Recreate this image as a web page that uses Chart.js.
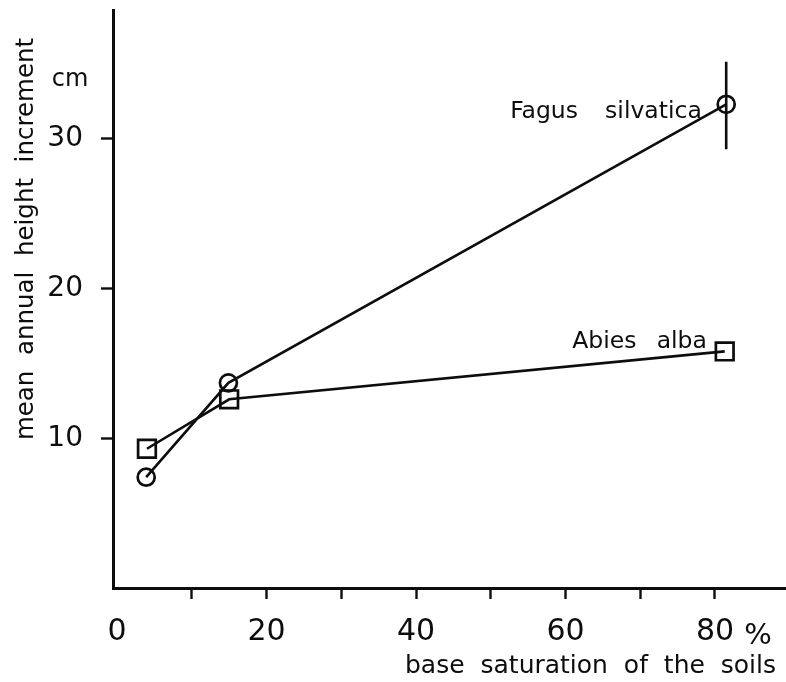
<!DOCTYPE html>
<html>
<head>
<meta charset="utf-8">
<script src="https://cdn.jsdelivr.net/npm/chart.js@4/dist/chart.umd.min.js"></script>
<style>
html,body{margin:0;padding:0;background:#fff;}
#wrap{width:786px;height:682px;}
</style>
</head>
<body>
<div id="wrap"><canvas id="c" width="786" height="682"></canvas></div>
<script>
// ---- data ----
const baseSaturation = [3.9, 14.9, 81.5];          // % (Fagus)
const fagusIncrement = [7.4, 13.7, 32.3];          // cm
const abiesSaturation = [4.0, 15.0, 81.3];         // %
const abiesIncrement = [9.3, 12.6, 15.8];          // cm
const fagusErrorX = [81.5, 81.5];
const fagusErrorY = [35.15, 29.3];
const xTickValues = [0, 10, 20, 30, 40, 50, 60, 70, 80];
const xTickLabels = ['0', '', '20', '', '40', '', '60', '', '80'];
const yTickValues = [10, 20, 30];
const seriesNames = ['Fagus  silvatica', 'Abies  alba'];

const FONT = "'DejaVu Sans', sans-serif";
const INK = '#0d0d0d';

function pts(xs, ys){ return xs.map((x,i)=>({x:x, y:ys[i]})); }

const textPlugin = {
  id: 'textPlugin',
  afterDraw(chart){
    const ctx = chart.ctx, xs = chart.scales.x, ys = chart.scales.y;
    ctx.save();
    ctx.fillStyle = INK;
    // series labels (anchored in data space)
    ctx.font = '23.5px ' + FONT;
    ctx.textBaseline = 'alphabetic';
    ctx.textAlign = 'left';
    ctx.fillText('Fagus', xs.getPixelForValue(52.6), ys.getPixelForValue(31.4));
    ctx.fillText('silvatica', xs.getPixelForValue(65.3), ys.getPixelForValue(31.4));
    ctx.fillText('Abies', xs.getPixelForValue(60.9), ys.getPixelForValue(16.0));
    ctx.fillText('alba', xs.getPixelForValue(72.2), ys.getPixelForValue(16.0));
    // unit labels
    ctx.font = '24px ' + FONT;
    ctx.textAlign = 'center';
    ctx.fillText('cm', 70, 86);
    ctx.font = '29px ' + FONT;
    ctx.textBaseline = 'middle';
    ctx.fillText('%', 758, 636);
    // x title
    ctx.font = '25px ' + FONT;
    ctx.textAlign = 'right';
    ctx.textBaseline = 'alphabetic';
    ctx.fillText('base  saturation  of  the  soils', 776, 673);
    // y title
    ctx.translate(33, 239);
    ctx.rotate(-Math.PI/2);
    ctx.textAlign = 'center';
    ctx.font = '24.5px ' + FONT;
    ctx.fillText('mean  annual  height  increment', 0, 0);
    ctx.restore();
  }
};

new Chart(document.getElementById('c'), {
  type: 'scatter',
  data: {
    datasets: [
      {
        label: seriesNames[0],
        data: pts(baseSaturation, fagusIncrement),
        showLine: true, tension: 0,
        borderColor: INK, borderWidth: 2.6,
        pointStyle: 'circle', pointRadius: 8.5,
        pointBorderColor: INK, pointBorderWidth: 2.7,
        pointBackgroundColor: 'rgba(0,0,0,0)'
      },
      {
        label: seriesNames[1],
        data: pts(abiesSaturation, abiesIncrement),
        showLine: true, tension: 0,
        borderColor: INK, borderWidth: 2.6,
        pointStyle: 'rect', pointRadius: 12.5,
        pointBorderColor: INK, pointBorderWidth: 2.7,
        pointBackgroundColor: 'rgba(0,0,0,0)'
      },
      {
        label: 'range',
        data: pts(fagusErrorX, fagusErrorY),
        showLine: true, tension: 0,
        borderColor: INK, borderWidth: 2.6,
        pointRadius: 0
      }
    ]
  },
  options: {
    responsive: false,
    animation: false,
    layout: { autoPadding: false, padding: { top: 10, right: 0, left: 0, bottom: 0 } },
    plugins: { legend: { display: false }, tooltip: { enabled: false }, title: { display: false } },
    scales: {
      x: {
        type: 'linear',
        min: -0.54, max: 89.5,
        afterBuildTicks(s){ s.ticks = xTickValues.map(v=>({value:v})); },
        afterFit(s){ s.height = 94; s.paddingLeft = 0; s.paddingRight = 0; },
        border: { display: true, color: INK, width: 3 },
        grid: {
          drawOnChartArea: false, drawTicks: true, tickLength: 11,
          tickWidth: 2.4,
          tickColor: (c)=> (c.tick && c.tick.value === 0) ? 'rgba(0,0,0,0)' : INK
        },
        ticks: {
          color: INK, font: { family: FONT, size: 30 }, padding: 15,
          maxRotation: 0, autoSkip: false,
          callback: (v)=> { const i = xTickValues.indexOf(v); return i >= 0 ? xTickLabels[i] : ''; }
        }
      },
      y: {
        type: 'linear',
        min: 0, max: 38.6,
        afterBuildTicks(s){ s.ticks = yTickValues.map(v=>({value:v})); },
        afterFit(s){ s.width = 113; s.paddingTop = 0; s.paddingBottom = 0; },
        border: { display: true, color: INK, width: 3 },
        grid: { drawOnChartArea: false, drawTicks: true, tickLength: 12, tickWidth: 2.4, tickColor: INK },
        ticks: {
          color: INK, font: { family: FONT, size: 28 }, padding: 18,
          callback: (v)=> String(v)
        }
      }
    }
  },
  plugins: [textPlugin]
});
</script>
</body>
</html>
